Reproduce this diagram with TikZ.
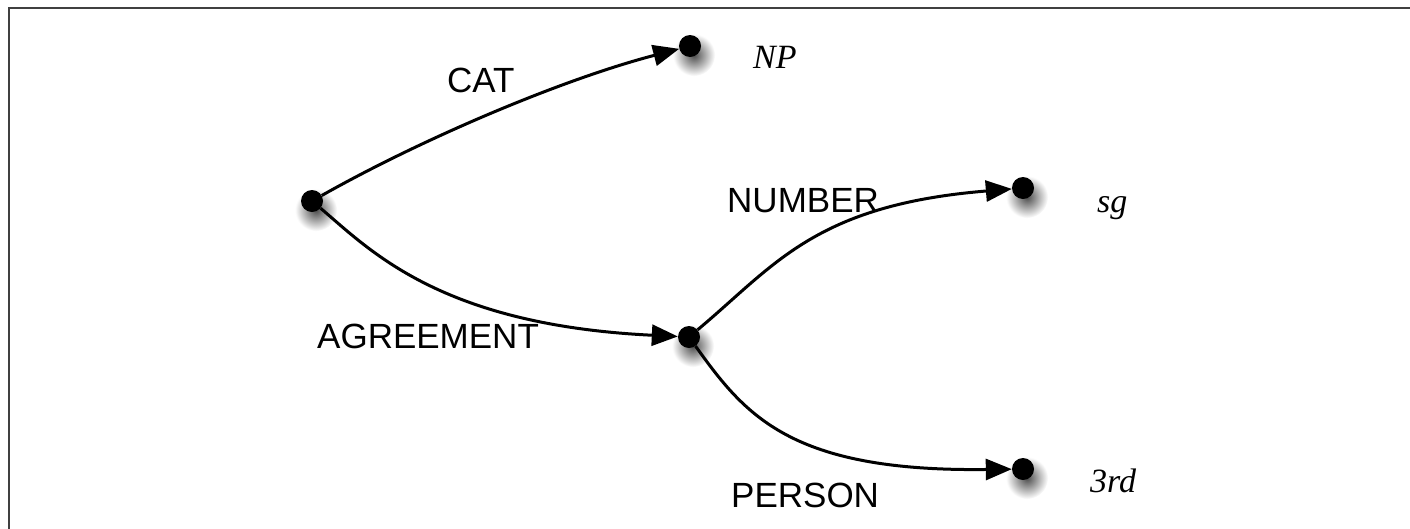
\documentclass[tikz,border=0pt]{standalone}
\usepackage{fontspec}
\setmainfont{Liberation Sans}
\newfontfamily\valfont{Liberation Serif}
\usetikzlibrary{arrows.meta}
\begin{document}
\begin{tikzpicture}[x=1pt,y=-1pt,
  dot/.style={circle,fill=black,inner sep=0pt,minimum size=22pt},
  shadowblob/.style={inner color=black!70,outer color=white},
  edge/.style={line width=3pt,-{Triangle[length=26pt,width=21pt]}},
  lbl/.style={anchor=base west,inner sep=0pt,font=\fontsize{35}{40}\selectfont},
  val/.style={anchor=base west,inner sep=0pt,font=\valfont\itshape\fontsize{34}{40}\selectfont}]
\useasboundingbox (0,0) rectangle (1410,528);
\fill[white] (-10,-10) rectangle (1420,538);
\draw[line width=2pt,black!75] (8.5,540) -- (8.5,7.5) -- (1420,7.5);
% positions
\coordinate (proot) at (312,201);
\coordinate (pnp) at (690,46);
\coordinate (pagr) at (689,337);
\coordinate (psg) at (1023,188);
\coordinate (prd) at (1023,469);
% shadows
\foreach \p in {proot,pnp,pagr,psg,prd}
  \shade[shadowblob] ([shift={(4,9)}]\p) circle (21pt);
% nodes
\node[dot] (root) at (proot) {};
\node[dot] (np) at (pnp) {};
\node[dot] (agr) at (pagr) {};
\node[dot] (sg) at (psg) {};
\node[dot] (rd) at (prd) {};
% values
\node[val] (tnp) at (753,68) {NP};
\node[val] (tsg) at (1097,212) {sg};
\node[val] (trd) at (1090,492) {3rd};
% edge labels
\node[lbl] (lcat) at (447,92) {CAT};
\node[lbl] (lnum) at (727,212) {NUMBER};
\node[lbl] (lagr) at (317,348) {AGREEMENT};
\node[lbl] (lper) at (731,507) {PERSON};
% connectors
\draw[edge] (root) .. controls (420,140) and (560,80) .. (np);
\draw[edge] (root) .. controls (370,250) and (440,325) .. (agr);
\draw[edge] (agr) .. controls (775,265) and (815,205) .. (sg);
\draw[edge] (agr) .. controls (745,415) and (790,472) .. (rd);
\end{tikzpicture}
\end{document}
